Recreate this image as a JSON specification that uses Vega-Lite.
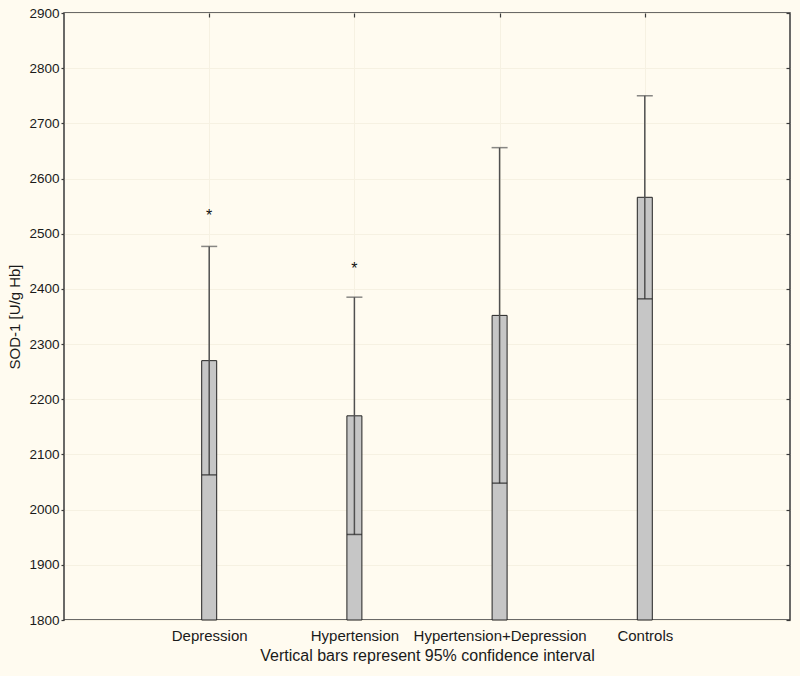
{
  "$schema": "https://vega.github.io/schema/vega-lite/v6.json",
  "autosize": {"type": "none"},
  "padding": {"left": 64, "top": 13, "right": 10, "bottom": 56},
  "width": 726,
  "height": 607,
  "background": "#fffbf0",
  "config": {
    "view": {"stroke": "#3a3a3a", "strokeWidth": 1.5, "fill": "#fffbf0"},
    "font": "Liberation Sans",
    "axis": {"domain": false, "labelFont": "Liberation Sans", "titleFont": "Liberation Sans", "titleFontWeight": "normal", "labelColor": "#1a1a1a", "titleColor": "#1a1a1a", "gridColor": "#f6f1e2", "gridWidth": 1, "tickColor": "#3a3a3a", "tickWidth": 1.2}
  },
  "data": {
    "values": [
      {"group": "Depression", "mean": 2270, "lo": 2063, "hi": 2477, "star": "*", "star_y": 2539},
      {"group": "Hypertension", "mean": 2170, "lo": 1955, "hi": 2385, "star": "*", "star_y": 2443},
      {"group": "Hypertension+Depression", "mean": 2352, "lo": 2048, "hi": 2656, "star": "", "star_y": null},
      {"group": "Controls", "mean": 2566, "lo": 2382, "hi": 2750, "star": "", "star_y": null}
    ]
  },
  "resolve": {"axis": {"x": "independent", "y": "independent"}},
  "layer": [
    {
      "mark": {"type": "bar", "size": 15, "fill": "#c6c6c6", "stroke": "#222222", "strokeWidth": 1},
      "encoding": {
        "x": {"field": "group", "type": "nominal", "sort": null,
              "scale": {"type": "point", "padding": 1},
              "axis": {"orient": "bottom", "title": "Vertical bars represent 95% confidence interval", "labelAngle": 0, "labelFontSize": 15, "titleFontSize": 16, "ticks": false, "labelPadding": 8, "titlePadding": 4, "grid": true}},
        "y": {"field": "mean", "type": "quantitative",
              "scale": {"domain": [1800, 2900], "nice": false, "zero": false},
              "axis": {"orient": "left", "title": "SOD-1 [U/g Hb]", "format": "d", "values": [1800, 1900, 2000, 2100, 2200, 2300, 2400, 2500, 2600, 2700, 2800, 2900], "labelFontSize": 13.5, "titleFontSize": 15, "tickSize": 3, "labelPadding": 2, "titlePadding": 6, "grid": true}},
        "y2": {"datum": 1800}
      }
    },
    {
      "mark": {"type": "rule", "color": "#505050", "strokeWidth": 1.5},
      "encoding": {
        "x": {"field": "group", "type": "nominal", "sort": null,
              "axis": {"orient": "top", "title": null, "labels": false, "tickSize": -4, "grid": false}},
        "y": {"field": "lo", "type": "quantitative",
              "axis": {"orient": "right", "title": null, "labels": false, "tickSize": -4, "grid": false, "values": [1800, 1900, 2000, 2100, 2200, 2300, 2400, 2500, 2600, 2700, 2800, 2900]}},
        "y2": {"field": "hi"}
      }
    },
    {
      "mark": {"type": "tick", "size": 16, "thickness": 1.5, "color": "#555555"},
      "encoding": {
        "x": {"field": "group", "type": "nominal", "sort": null, "axis": null},
        "y": {"field": "hi", "type": "quantitative", "axis": null}
      }
    },
    {
      "mark": {"type": "tick", "size": 15, "thickness": 1.5, "color": "#222222"},
      "encoding": {
        "x": {"field": "group", "type": "nominal", "sort": null, "axis": null},
        "y": {"field": "lo", "type": "quantitative", "axis": null}
      }
    },
    {
      "transform": [{"filter": "datum.star_y != null"}],
      "mark": {"type": "text", "fontSize": 16, "color": "#111111", "baseline": "middle", "dy": 4},
      "encoding": {
        "x": {"field": "group", "type": "nominal", "sort": null, "axis": null},
        "y": {"field": "star_y", "type": "quantitative", "axis": null},
        "text": {"field": "star"}
      }
    }
  ]
}
